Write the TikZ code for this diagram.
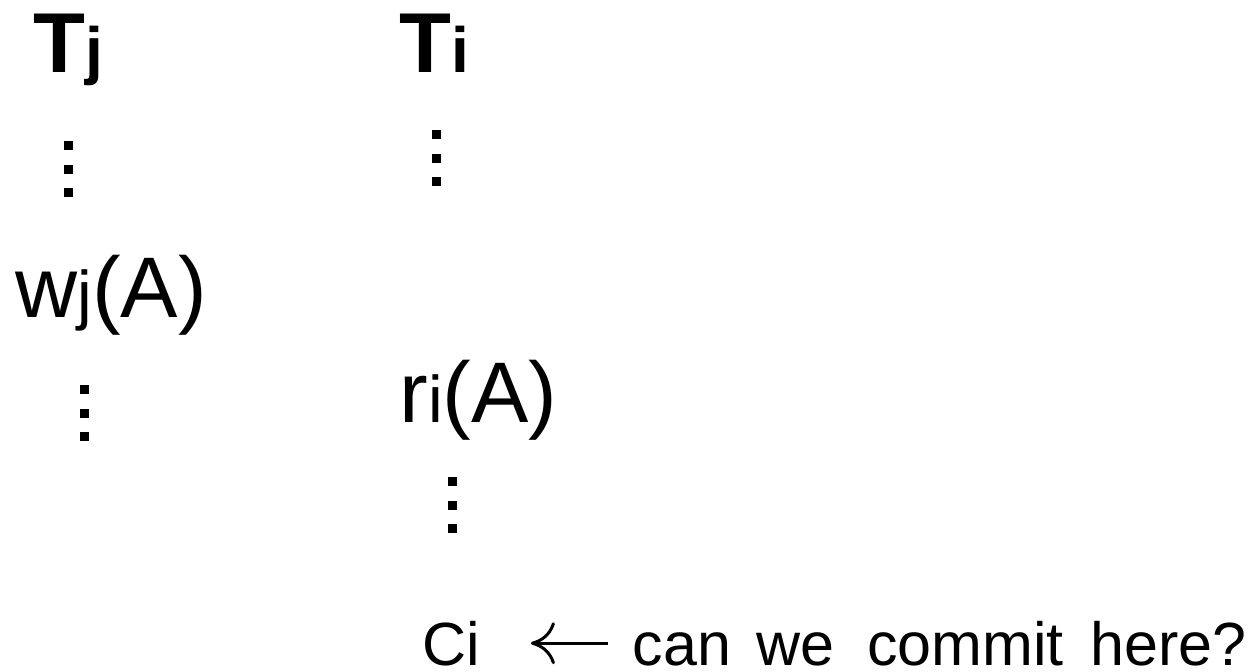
\documentclass[tikz,border=0pt]{standalone}
\usepackage{fontspec}
\setmainfont{Liberation Sans}
\usetikzlibrary{arrows.meta}
\tikzset{
  txhead/.style={anchor=base west, inner sep=0pt,
    font=\fontsize{42.5}{50}\selectfont\bfseries},
  opnode/.style={anchor=base west, inner sep=0pt,
    font=\fontsize{43}{50}\selectfont},
  note/.style={anchor=base west, inner sep=0pt,
    font=\fontsize{30.5}{36}\selectfont},
  backarrow/.style={{Computer Modern Rightarrow[length=12pt,width=21pt]}-,
    line width=1.5pt}
}
\newcommand{\hsub}[1]{{\fontsize{32}{38}\selectfont #1}}
\newcommand{\osub}[1]{{\fontsize{33}{38}\selectfont #1}}

\begin{document}
\begin{tikzpicture}[x=0.5pt, y=-0.5pt]
  \useasboundingbox (0,0) rectangle (1256,671);

  % Transaction headers
  \node[txhead] (tj) at (33,72)  {T\hsub{j}};
  \node[txhead] (ti) at (399,72) {T\hsub{i}};

  % Operations
  \node[opnode] (wj) at (15,317)  {w\osub{j}(A)};
  \node[opnode] (ri) at (399,422) {r\osub{i}(A)};

  % Vertical ellipses
  \foreach \cx/\cy in {68.5/145.5, 436.5/134.5, 84.5/389.5, 452.5/481.5}
    \foreach \k in {0,1,2}
      \fill (\cx-4.5,\cy+23.5*\k-4.5) rectangle ++(9,9);

  % Commit point
  \node[note] (ci) at (422,665)   {Ci};
  \node[note] (q)  at (632.5,665)
    {can\hspace{4pt} we\hspace{8pt} commit\hspace{5pt} here?};
  \draw[backarrow, shorten <=25.25pt, shorten >=12.25pt] (ci.east) -- (q.west);
\end{tikzpicture}
\end{document}
